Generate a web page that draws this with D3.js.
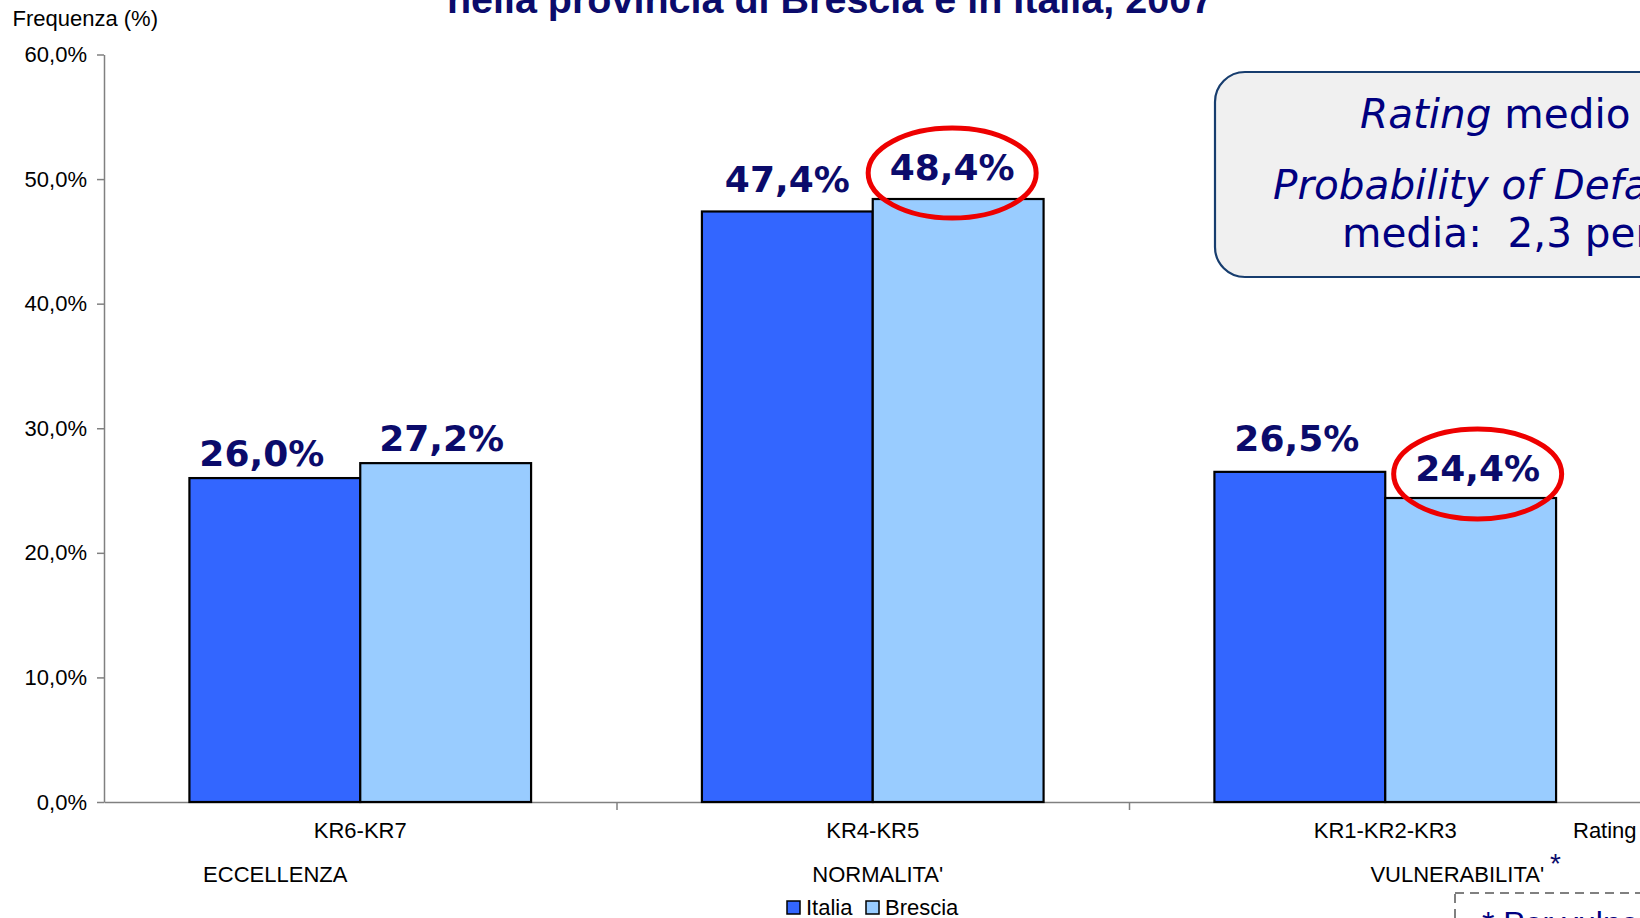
<!DOCTYPE html>
<html>
<head>
<meta charset="utf-8">
<script src="https://cdn.jsdelivr.net/npm/d3@7"></script>
<style>
  html, body { margin: 0; padding: 0; background: #fff; overflow: hidden; }
  svg { display: block; font-family: "Liberation Sans", Arial, sans-serif; }
</style>
</head>
<body>
<div id="chart"></div>
<script>
// data
var categories = ["KR6-KR7", "KR4-KR5", "KR1-KR2-KR3"];
var groupNames = ["ECCELLENZA", "NORMALITA'", "VULNERABILITA'"];
var seriesNames = ["Italia", "Brescia"];
var italia = [26.0, 47.4, 26.5];
var brescia = [27.2, 48.4, 24.4];
var yTicks = [0, 10, 20, 30, 40, 50, 60];
var circled = [[1, 1], [2, 1]];   // [category, series] with red ring

var colors = ["#3366ff", "#99ccff"];
var navy = "#0b0b6b";

var width = 1640, height = 918;
var plotLeft = 104, plotBottom = 802, plotTop = 54.5;

var svg = d3.select("#chart")
    .append("svg")
    .attr("width", width)
    .attr("height", height);

var x0 = d3.scaleBand()
    .domain(categories)
    .range([plotLeft, plotLeft + 3 * 512.5])
    .paddingInner(1 / 3)
    .paddingOuter(1 / 6);

var x1 = d3.scaleBand()
    .domain(seriesNames)
    .range([0, x0.bandwidth()]);

var y = d3.scaleLinear()
    .domain([0, 60])
    .range([plotBottom, plotTop]);

var table = categories.map(function(c, i) {
    return { cat: c, values: [italia[i], brescia[i]] };
});

// title (second line only visible)
svg.append("text")
    .attr("x", 830)
    .attr("y", 13)
    .attr("text-anchor", "middle")
    .attr("font-size", 39.5)
    .attr("font-weight", "bold")
    .attr("fill", navy)
    .text("nella provincia di Brescia e in Italia, 2007");

svg.append("text")
    .attr("x", 12.5)
    .attr("y", 26)
    .attr("font-size", 22)
    .attr("fill", "#000")
    .text("Frequenza (%)");

// y axis
var yAxis = svg.append("g")
    .attr("transform", "translate(" + plotLeft + ",0)")
    .call(d3.axisLeft(y)
        .tickValues(yTicks)
        .tickSize(7)
        .tickSizeOuter(0)
        .tickPadding(10)
        .tickFormat(function(d) { return d.toFixed(1).replace(".", ",") + "%"; }));
yAxis.select(".domain").attr("stroke", "#808080").attr("stroke-width", 1.5);
yAxis.selectAll(".tick line").attr("stroke", "#808080").attr("stroke-width", 1.5);
yAxis.selectAll(".tick text")
    .attr("font-size", 22)
    .attr("font-family", "Liberation Sans, Arial, sans-serif")
    .attr("fill", "#000");

// x axis with ticks on category boundaries
var xb = d3.scaleLinear().domain([0, 3]).range(x0.range());
var xAxis = svg.append("g")
    .attr("transform", "translate(0," + plotBottom + ")")
    .call(d3.axisBottom(xb).tickValues([1, 2, 3]).tickSize(8).tickSizeOuter(0).tickFormat(""));
xAxis.select(".domain").attr("stroke", "#808080").attr("stroke-width", 1.5);
xAxis.selectAll(".tick line").attr("stroke", "#808080").attr("stroke-width", 1.5);

// bars
var groups = svg.selectAll("g.grp")
    .data(table)
    .enter().append("g")
    .attr("class", "grp")
    .attr("transform", function(d) { return "translate(" + x0(d.cat) + ",0)"; });

groups.selectAll("rect")
    .data(function(d) { return d.values; })
    .enter().append("rect")
    .attr("x", function(d, i) { return x1(seriesNames[i]); })
    .attr("y", function(d) { return y(d); })
    .attr("width", x1.bandwidth())
    .attr("height", function(d) { return plotBottom - y(d); })
    .attr("fill", function(d, i) { return colors[i]; })
    .attr("stroke", "#000")
    .attr("stroke-width", 2.2);

// value labels (hand-placed in the original, so small nudges)
var liftY = [[12, 12], [19, 19], [21, 17]];
var nudgeX = [[-13, -4], [0, -6], [-3, 7]];
function labelX(ci, si) { return x1(seriesNames[si]) + x1.bandwidth() / 2 + nudgeX[ci][si]; }
function labelY(ci, si) { return y(table[ci].values[si]) - liftY[ci][si]; }

groups.each(function(d, ci) {
    d3.select(this).selectAll("text.val")
        .data(d.values)
        .enter().append("text")
        .attr("class", "val")
        .attr("x", function(v, i) { return labelX(ci, i); })
        .attr("y", function(v, i) { return labelY(ci, i); })
        .attr("text-anchor", "middle")
        .attr("font-family", "DejaVu Sans, Verdana, sans-serif")
        .attr("font-weight", "bold")
        .attr("font-size", 36)
        .attr("fill", navy)
        .text(function(v) { return v.toFixed(1).replace(".", ",") + "%"; });
});

// red rings
circled.forEach(function(p) {
    var cx = x0(categories[p[0]]) + labelX(p[0], p[1]);
    var cy = labelY(p[0], p[1]) - 7;
    svg.append("ellipse")
        .attr("cx", cx)
        .attr("cy", cy)
        .attr("rx", 84)
        .attr("ry", 45)
        .attr("fill", "none")
        .attr("stroke", "#ee0000")
        .attr("stroke-width", 5);
});

// category labels
svg.selectAll("text.cat")
    .data(categories)
    .enter().append("text")
    .attr("class", "cat")
    .attr("x", function(d) { return x0(d) + x0.bandwidth() / 2; })
    .attr("y", 838)
    .attr("text-anchor", "middle")
    .attr("font-size", 22)
    .attr("fill", "#000")
    .text(function(d) { return d; });

var groupShift = [-85, 5, 72];
svg.selectAll("text.grpname")
    .data(groupNames)
    .enter().append("text")
    .attr("class", "grpname")
    .attr("x", function(d, i) { return x0(categories[i]) + x0.bandwidth() / 2 + groupShift[i]; })
    .attr("y", 882)
    .attr("text-anchor", "middle")
    .attr("font-size", 22)
    .attr("fill", "#000")
    .text(function(d) { return d; });

svg.append("text")
    .attr("x", 1550)
    .attr("y", 873)
    .attr("font-size", 28)
    .attr("fill", navy)
    .text("*");

svg.append("text")
    .attr("x", 1573)
    .attr("y", 838)
    .attr("font-size", 22)
    .attr("fill", "#000")
    .text("Rating");

// legend
var legend = svg.append("g").attr("transform", "translate(787,901)");
var lx = [0, 79];
seriesNames.forEach(function(s, i) {
    legend.append("rect")
        .attr("x", lx[i])
        .attr("y", 0)
        .attr("width", 13)
        .attr("height", 13)
        .attr("fill", colors[i])
        .attr("stroke", "#000")
        .attr("stroke-width", 1.5);
    legend.append("text")
        .attr("x", lx[i] + 19)
        .attr("y", 14)
        .attr("font-size", 22)
        .attr("fill", "#000")
        .text(s);
});

// info box
svg.append("rect")
    .attr("x", 1215)
    .attr("y", 72)
    .attr("width", 500)
    .attr("height", 205)
    .attr("rx", 30)
    .attr("fill", "#f0f0f0")
    .attr("stroke", "#173d6e")
    .attr("stroke-width", 2.2);

var box = svg.append("g")
    .attr("font-family", "DejaVu Sans, Verdana, sans-serif")
    .attr("font-size", 40.5)
    .attr("fill", "#000080");

var l1 = box.append("text").attr("x", 1360).attr("y", 128);
l1.append("tspan").attr("font-style", "italic").text("Rating");
l1.append("tspan").text(" medio");

box.append("text").attr("x", 1273).attr("y", 199)
    .attr("font-style", "italic")
    .text("Probability of Default");

box.append("text").attr("x", 1342).attr("y", 247)
    .attr("xml:space", "preserve")
    .text("media:  2,3 per cento");

// dashed note box
svg.append("rect")
    .attr("x", 1455)
    .attr("y", 893)
    .attr("width", 400)
    .attr("height", 100)
    .attr("fill", "none")
    .attr("stroke", "#808080")
    .attr("stroke-width", 2)
    .attr("stroke-dasharray", "9,6");

svg.append("text")
    .attr("x", 1482)
    .attr("y", 934)
    .attr("font-size", 32)
    .attr("fill", "#000080")
    .text("* Per vulnerabilità");
</script>
</body>
</html>
